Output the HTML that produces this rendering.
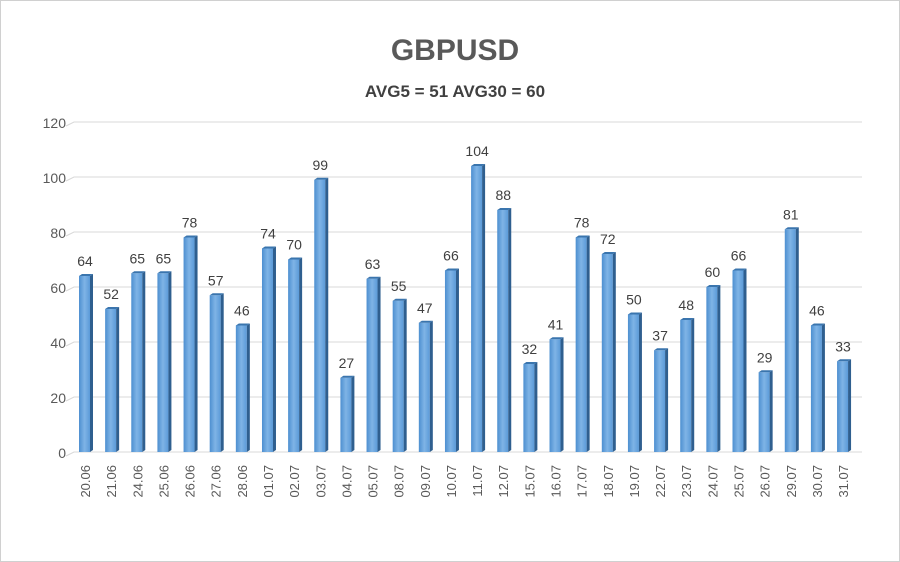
<!DOCTYPE html>
<html><head><meta charset="utf-8"><style>
body{margin:0;background:#fff}
svg{display:block;font-family:"Liberation Sans",sans-serif}
</style></head><body>
<svg id="c" width="900" height="562">
<defs>
<linearGradient id="g" x1="0" x2="1" y1="0" y2="0">
<stop offset="0" stop-color="#4d8fd0"/><stop offset="0.5" stop-color="#7fb4e6"/><stop offset="1" stop-color="#5b9ad8"/>
</linearGradient>
</defs>
<rect x="0.5" y="0.5" width="899" height="561" fill="#fff" stroke="#d0d0d0"/>
<text x="455" y="60" text-anchor="middle" font-size="30" font-weight="bold" fill="#595959">GBPUSD</text>
<text x="455" y="97" text-anchor="middle" font-size="17" font-weight="bold" fill="#404040">AVG5 = 51 AVG30 = 60</text>
<g id="grid"></g><g id="bars"></g>
</svg>
<script>
const categories=["20.06","21.06","24.06","25.06","26.06","27.06","28.06","01.07","02.07","03.07","04.07","05.07","08.07","09.07","10.07","11.07","12.07","15.07","16.07","17.07","18.07","19.07","22.07","23.07","24.07","25.07","26.07","29.07","30.07","31.07"];
const values=[64,52,65,65,78,57,46,74,70,99,27,63,55,47,66,104,88,32,41,78,72,50,37,48,60,66,29,81,46,33];
const yTicks=[0,20,40,60,80,100,120];
const NS="http://www.w3.org/2000/svg";
const base=452,k=2.75;
function y(v){return base-v*k;}
function xl(i){return 79+i*26.14;}
function mk(t,a,p){const e=document.createElementNS(NS,t);for(const q in a)e.setAttribute(q,a[q]);(p).appendChild(e);return e;}
const grid=document.getElementById('grid'),bars=document.getElementById('bars');
yTicks.forEach(v=>{
 const l=mk('polyline',{points:`66,${y(v)+4} 74,${y(v)} 862,${y(v)}`,fill:'none',stroke:'#d9d9d9','stroke-width':1},grid);
 
 
 const t=mk('text',{x:66,y:y(v)+6,'text-anchor':'end','font-size':14,fill:'#595959'},grid);
 t.textContent=v;
 
 
});
values.forEach((v,i)=>{
 const x=xl(i),top=y(v);
 const g=mk('g',{},bars);
 
 
 mk('rect',{x:x,y:top,width:11,height:base-top,fill:'url(#g)'},g);
 mk('polygon',{points:`${x+11},${top} ${x+14},${top-2} ${x+14},${base-2} ${x+11},${base}`,fill:'#2f5f8f'},g);
 mk('polygon',{points:`${x},${top} ${x+3},${top-2} ${x+14},${top-2} ${x+11},${top}`,fill:'#3a75ae'},g);
 const t=mk('text',{x:x+6,y:top-10,'text-anchor':'middle','font-size':14,fill:'#404040'},bars);
 t.textContent=v;
 
 
 const c=mk('text',{transform:`translate(${x+11},465) rotate(-90)`,'text-anchor':'end','font-size':13,fill:'#595959'},bars);
 c.textContent=categories[i];
 
 
});
</script>
</body></html>
